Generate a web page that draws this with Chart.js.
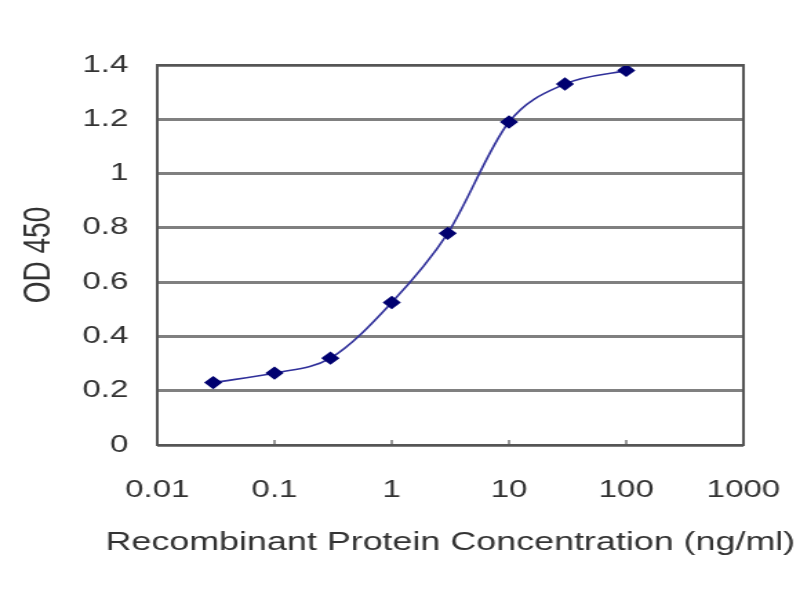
<!DOCTYPE html>
<html>
<head>
<meta charset="utf-8">
<script src="https://cdn.jsdelivr.net/npm/chart.js@4/dist/chart.umd.min.js"></script>
<style>
html,body{margin:0;padding:0;background:#fff;}
#wrap{width:800px;height:600px;overflow:hidden;}
#c{display:block;width:800px;height:600px;}
</style>
</head>
<body>
<div id="wrap"><canvas id="c" width="580" height="600" style="width:800px;height:600px;"></canvas></div>
<script>
const concentrations = [0.03, 0.1, 0.3, 1, 3, 10, 30, 100];
const od450 = [0.23, 0.265, 0.32, 0.525, 0.78, 1.19, 1.33, 1.38];
const xTickValues = [0.01, 0.1, 1, 10, 100, 1000];
const yTickValues = [0, 0.2, 0.4, 0.6, 0.8, 1, 1.2, 1.4];
const xTitle = 'Recombinant Protein Concentration (ng/ml)';
const yTitle = 'OD 450';

const textColor = '#333333';
const fontFamily = '"Liberation Sans", Arial, sans-serif';
const xTitleFont = '26px "Liberation Sans", Arial, sans-serif';
const tickSize = 24;

const frame = {
  id: 'frame',
  afterDraw(chart) {
    const {ctx, chartArea: a, scales} = chart;
    ctx.save();
    ctx.strokeStyle = '#555';
    ctx.lineWidth = 2;
    ctx.strokeRect(a.left, a.top, a.right - a.left, a.bottom - a.top);
    ctx.lineWidth = 1.2;
    xTickValues.forEach(v => {
      const px = scales.x.getPixelForValue(v);
      ctx.beginPath();
      ctx.moveTo(px, a.bottom);
      ctx.lineTo(px, a.bottom - 5);
      ctx.stroke();
    });
    // x-axis title (wider than the plot, so drawn without Chart.js' maxWidth clamp)
    ctx.fillStyle = textColor;
    ctx.font = xTitleFont;
    ctx.textAlign = 'center';
    ctx.textBaseline = 'middle';
    ctx.fillText(xTitle, (scales.x.left + scales.x.right) / 2, 543);
    ctx.restore();
  }
};

new Chart(document.getElementById('c'), {
  type: 'line',
  data: {
    datasets: [{
      data: concentrations.map((x, i) => ({x: x, y: od450[i]})),
      borderColor: '#30309a',
      borderWidth: 1.6,
      backgroundColor: '#000070',
      pointBackgroundColor: '#000070',
      pointBorderColor: '#000070',
      pointStyle: 'rectRot',
      pointRadius: 5.5,
      tension: 0.4,
      cubicInterpolationMode: 'monotone',
      fill: false
    }]
  },
  options: {
    responsive: false,
    animation: false,
    devicePixelRatio: 1,
    layout: {padding: {left: 0, right: 41, top: 65, bottom: 0}},
    plugins: {legend: {display: false}, tooltip: {enabled: false}},
    scales: {
      x: {
        type: 'logarithmic',
        min: 0.01,
        max: 1000,
        afterBuildTicks(scale) { scale.ticks = xTickValues.map(v => ({value: v})); },
        afterFit(scale) { scale.height = 155; scale.paddingLeft = 0; scale.paddingRight = 0; },
        grid: {display: false, drawTicks: false},
        border: {display: false},
        ticks: {
          color: textColor,
          font: {family: fontFamily, size: tickSize},
          padding: 31,
          autoSkip: false,
          maxRotation: 0,
          callback: (v) => String(v)
        },
        title: {display: false}
      },
      y: {
        min: 0,
        max: 1.4,
        afterBuildTicks(scale) { scale.ticks = yTickValues.map(v => ({value: v})); },
        afterFit(scale) { scale.width = 114; },
        grid: {color: '#808080', lineWidth: 3, drawTicks: false},
        border: {display: false},
        ticks: {
          color: textColor,
          font: {family: fontFamily, size: tickSize},
          padding: 21,
          callback: (v) => String(v)
        },
        title: {
          display: true,
          text: yTitle,
          color: textColor,
          font: {family: fontFamily, size: 28},
          padding: {top: 11, bottom: 0}
        }
      }
    }
  },
  plugins: [frame]
});
</script>
</body>
</html>
